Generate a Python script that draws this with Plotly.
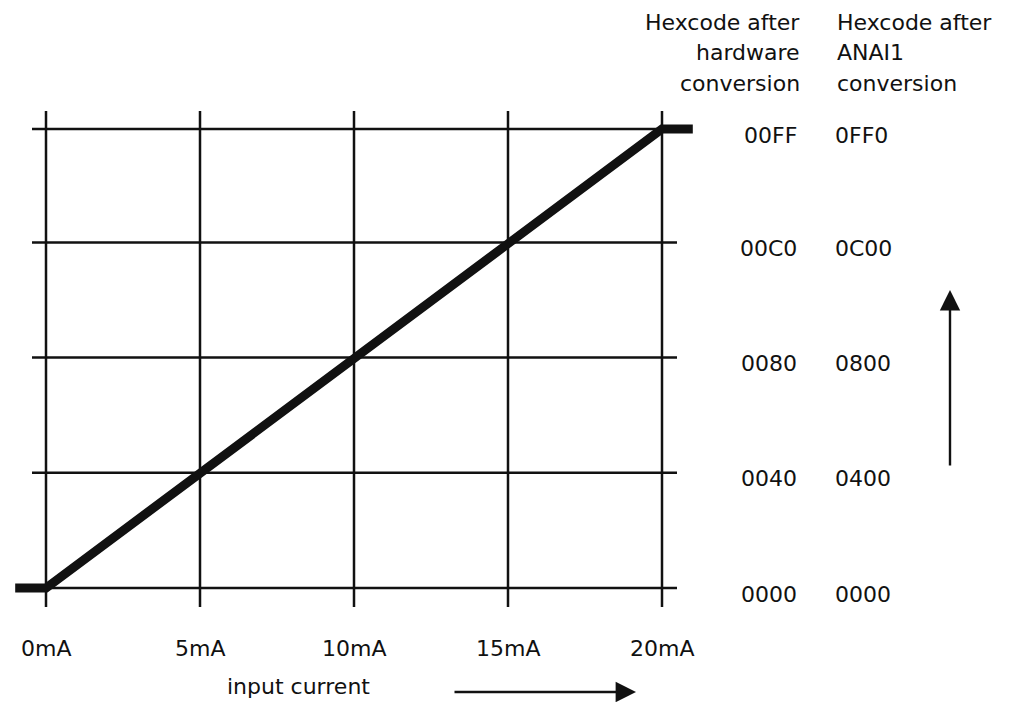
import plotly.graph_objects as go

# ---- data ----
current_ma = [0, 5, 10, 15, 20]
current_labels = ["0mA", "5mA", "10mA", "15mA", "20mA"]
code_vals = [0, 64, 128, 192, 255]
hw_labels = ["0000", "0040", "0080", "00C0", "00FF"]
anai_labels = ["0000", "0400", "0800", "0C00", "0FF0"]
curve_x = [-1, 0, 20, 21]
curve_y = [0, 0, 255, 255]
hdr_hw = ["Hexcode after", "hardware", "conversion"]
hdr_anai = ["Hexcode after", "ANAI1", "conversion"]
x_title = "input current"

# ---- pixel <-> data mapping (axes span the whole figure) ----
W, H = 1031, 702
OFF = 8  # page body margin
X0PX, X20PX = 46, 662
Y0PX, Y255PX = 588, 129
sx = (X20PX - X0PX) / 20.0
sy = (Y0PX - Y255PX) / 255.0
def dx(px):
    return (px - X0PX) / sx
def dy(py):
    return (Y0PX - py) / sy

FONT = "DejaVu Sans, Liberation Sans, Arial, sans-serif"
FS = 22
INK = "#111111"

fig = go.Figure()

# grid lines
for v in code_vals:
    fig.add_trace(go.Scatter(x=[dx(X0PX - 14), dx(X20PX + 15)], y=[v, v], mode="lines",
                             line=dict(color=INK, width=2.5), hoverinfo="skip", showlegend=False))
for c in current_ma:
    fig.add_trace(go.Scatter(x=[c, c], y=[dy(607), dy(111)], mode="lines",
                             line=dict(color=INK, width=2.5), hoverinfo="skip", showlegend=False))

# transfer curve
fig.add_trace(go.Scatter(x=curve_x, y=curve_y, mode="lines",
                         line=dict(color=INK, width=9), hoverinfo="skip", showlegend=False))

ann = []
for c, t in zip(current_ma, current_labels):
    ann.append(dict(x=c, y=dy(648), text=t, showarrow=False, xanchor="center", yanchor="middle",
                    font=dict(family=FONT, size=FS, color=INK)))
for v, t1, t2 in zip(code_vals, hw_labels, anai_labels):
    yy = v - 6 / sy
    ann.append(dict(x=dx(799), y=yy, text=t1, showarrow=False, xanchor="right", yanchor="middle",
                    font=dict(family=FONT, size=FS, color=INK)))
    ann.append(dict(x=dx(833), y=yy, text=t2, showarrow=False, xanchor="left", yanchor="middle",
                    font=dict(family=FONT, size=FS, color=INK)))
for i, (a, b) in enumerate(zip(hdr_hw, hdr_anai)):
    py = 22 + i * 30.5
    ann.append(dict(x=dx(802), y=dy(py), text=a, showarrow=False, xanchor="right", yanchor="middle",
                    font=dict(family=FONT, size=FS, color=INK)))
    ann.append(dict(x=dx(835), y=dy(py), text=b, showarrow=False, xanchor="left", yanchor="middle",
                    font=dict(family=FONT, size=FS, color=INK)))

ann.append(dict(x=dx(298), y=dy(686), text=x_title, showarrow=False, xanchor="center", yanchor="middle",
                font=dict(family=FONT, size=FS, color=INK)))

# arrows
ann.append(dict(x=dx(636), y=dy(692), ax=dx(453), ay=dy(692), xref="x", yref="y", axref="x", ayref="y",
                text="", showarrow=True, arrowhead=2, arrowsize=1.7, arrowwidth=2.4, arrowcolor=INK))
ann.append(dict(x=dx(950), y=dy(290), ax=dx(950), ay=dy(467), xref="x", yref="y", axref="x", ayref="y",
                text="", showarrow=True, arrowhead=2, arrowsize=1.7, arrowwidth=2.4, arrowcolor=INK))

# figure is placed OFF px right/down by the page margin: shift the visible window accordingly
fig.update_layout(
    width=W, height=H,
    margin=dict(l=0, r=0, t=0, b=0),
    paper_bgcolor="white", plot_bgcolor="white",
    xaxis=dict(range=[dx(OFF), dx(W + OFF)], visible=False, fixedrange=True),
    yaxis=dict(range=[dy(H + OFF), dy(OFF)], visible=False, fixedrange=True),
    annotations=ann,
    showlegend=False,
)

fig.write_html("out.html")
